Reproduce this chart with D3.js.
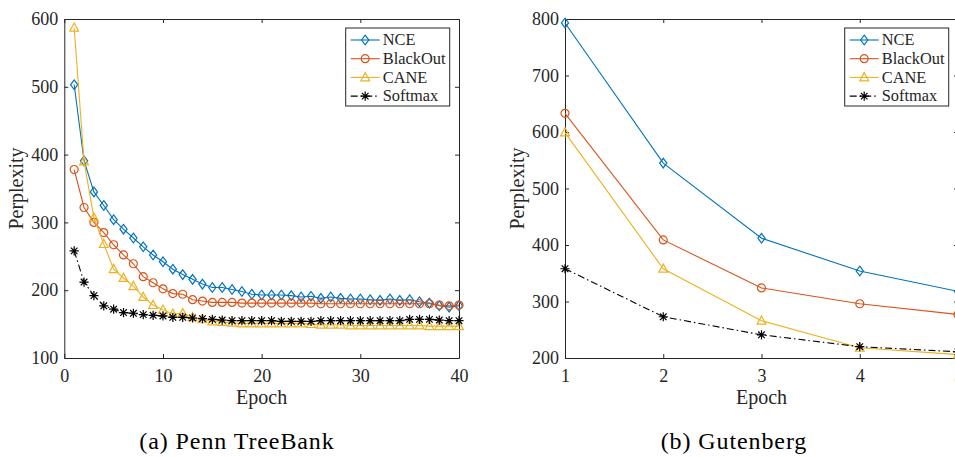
<!DOCTYPE html>
<html>
<head>
<meta charset="utf-8">
<script src="https://d3js.org/d3.v7.min.js"></script>
<style>
  body { margin: 0; background: #fff; }
  svg text { font-family: "Liberation Serif", "Times New Roman", serif; fill: #262626; }
</style>
</head>
<body>
<svg width="955" height="457"></svg>
<script>
// series order, colours and markers (MATLAB default colours)
var seriesNames = ["NCE", "BlackOut", "CANE", "Softmax"];
var seriesColors = ["#0072BD", "#D95319", "#EDB120", "#000000"];
var seriesMarkers = ["diamond", "circle", "triangle", "star"];

// (a) Penn TreeBank
var ptbEpochs = [1, 2, 3, 4, 5, 6, 7, 8, 9, 10, 11, 12, 13, 14, 15, 16, 17, 18, 19, 20,
                 21, 22, 23, 24, 25, 26, 27, 28, 29, 30, 31, 32, 33, 34, 35, 36, 37, 38, 39, 40];
var ptbNCE = [503, 391, 345, 325, 304, 290, 277, 264, 252, 242, 231, 223, 216, 209, 204, 204, 201, 198, 194, 193,
              193, 193, 192, 190, 191, 188, 190, 188, 187, 187, 186, 185, 187, 185, 186, 183, 181, 177, 175, 177];
var ptbBlackOut = [378, 322, 300, 285, 267, 252, 239, 220, 211, 202, 195, 194, 186, 184, 182, 182, 182, 181, 181, 181,
                   181, 181, 181, 181, 181, 180, 180, 180, 180, 180, 180, 180, 180, 180, 180, 180, 180, 178, 177, 178];
var ptbCANE = [587, 390, 307, 268, 231, 218, 206, 190, 178, 171, 165, 166, 160, 157, 154, 153, 152, 151, 151, 151,
               151, 151, 151, 151, 150, 149, 149, 149, 148, 148, 148, 148, 148, 148, 148, 148, 147, 147, 147, 147];
var ptbSoftmax = [258, 212, 192, 177, 172, 167, 166, 164, 163, 162, 160, 160, 159, 158, 157, 156, 155, 155, 155, 155,
                  155, 154, 154, 154, 154, 155, 155, 155, 155, 155, 155, 155, 155, 155, 157, 157, 157, 156, 155, 155];
var ptbXTicks = [0, 10, 20, 30, 40];
var ptbYTicks = [100, 200, 300, 400, 500, 600];

// (b) Gutenberg
var gutEpochs = [1, 2, 3, 4, 5];
var gutNCE = [793, 545, 412, 354, 318];
var gutBlackOut = [633, 409, 324, 296, 277];
var gutCANE = [599, 358, 266, 218, 206];
var gutSoftmax = [358, 273, 241, 220, 211];
var gutXTicks = [1, 2, 3, 4, 5];
var gutYTicks = [200, 300, 400, 500, 600, 700, 800];

var svg = d3.select("svg");
var axisColor = "#262626";
var serif = "'Liberation Serif', 'Times New Roman', serif";
var intFmt = d3.format("d");

function markerPath(type) {
    if (type == "diamond") return "M0,-4.8L3.6,0L0,4.8L-3.6,0Z";
    if (type == "circle") return "M4,0A4,4 0 1,1 -4,0A4,4 0 1,1 4,0Z";
    if (type == "triangle") return "M0,-4.8L4.4,3.4L-4.4,3.4Z";
    // asterisk
    return "M0,-4.6L0,4.6M-4.6,0L4.6,0M-3.3,-3.3L3.3,3.3M-3.3,3.3L3.3,-3.3";
}

function dashFor(i) {
    return seriesNames[i] == "Softmax" ? "7,3,1.5,3" : null;
}

function drawPanel(p) {
    var x = d3.scaleLinear().domain(p.xDomain).range([p.left, p.right]);
    var y = d3.scaleLinear().domain(p.yDomain).range([p.bottom, p.top]);
    var g = svg.append("g");

    // box axes, ticks pointing inward
    g.append("g")
     .attr("transform", "translate(0," + p.bottom + ")")
     .call(d3.axisBottom(x).tickValues(p.xTicks).tickFormat(intFmt)
             .tickSizeInner(-4).tickSizeOuter(0).tickPadding(11))
     .call(styleAxis);
    g.append("g")
     .attr("transform", "translate(0," + p.top + ")")
     .call(d3.axisTop(x).tickValues(p.xTicks).tickSizeInner(-4).tickSizeOuter(0).tickFormat(""))
     .call(styleAxis);
    g.append("g")
     .attr("transform", "translate(" + p.left + ",0)")
     .call(d3.axisLeft(y).tickValues(p.yTicks).tickFormat(intFmt)
             .tickSizeInner(-4).tickSizeOuter(0).tickPadding(6))
     .call(styleAxis);
    g.append("g")
     .attr("transform", "translate(" + p.right + ",0)")
     .call(d3.axisRight(y).tickValues(p.yTicks).tickSizeInner(-4).tickSizeOuter(0).tickFormat(""))
     .call(styleAxis);

    var line = d3.line()
        .x(function(d) { return x(d[0]); })
        .y(function(d) { return y(d[1]); });

    p.series.forEach(function(vals, i) {
        var pts = p.epochs.map(function(e, k) { return [e, vals[k]]; });
        g.append("path")
         .datum(pts)
         .attr("d", line)
         .attr("fill", "none")
         .attr("stroke", seriesColors[i])
         .attr("stroke-width", 1.1)
         .attr("stroke-dasharray", dashFor(i));
        g.selectAll(".m" + i)
         .data(pts)
         .enter().append("path")
         .attr("class", "m" + i)
         .attr("transform", function(d) { return "translate(" + x(d[0]) + "," + y(d[1]) + ")"; })
         .attr("d", markerPath(seriesMarkers[i]))
         .attr("fill", "none")
         .attr("stroke", seriesColors[i])
         .attr("stroke-width", 1.2);
    });

    // axis labels
    g.append("text")
     .attr("x", (p.left + p.right) / 2)
     .attr("y", 404)
     .attr("text-anchor", "middle")
     .style("font-family", serif)
     .style("font-size", "20px")
     .text("Epoch");
    g.append("text")
     .attr("transform", "translate(" + (p.left - 41) + "," + ((p.top + p.bottom) / 2) + ") rotate(-90)")
     .attr("text-anchor", "middle")
     .style("font-family", serif)
     .style("font-size", "20px")
     .text("Perplexity");

    // legend
    var lg = g.append("g").attr("transform", "translate(" + p.legendX + ",28)");
    lg.append("rect")
      .attr("width", 104)
      .attr("height", 78)
      .attr("fill", "#fff")
      .attr("stroke", axisColor)
      .attr("stroke-width", 1);
    seriesNames.forEach(function(name, i) {
        var cy = 12 + i * 18.7;
        lg.append("line")
          .attr("x1", 5).attr("x2", 34)
          .attr("y1", cy).attr("y2", cy)
          .attr("stroke", seriesColors[i])
          .attr("stroke-width", 1.1)
          .attr("stroke-dasharray", dashFor(i));
        lg.append("path")
          .attr("transform", "translate(19.5," + cy + ")")
          .attr("d", markerPath(seriesMarkers[i]))
          .attr("fill", "none")
          .attr("stroke", seriesColors[i])
          .attr("stroke-width", 1.2);
        lg.append("text")
          .attr("x", 37)
          .attr("y", cy + 5.3)
          .style("font-family", serif)
          .style("font-size", "16.4px")
          .text(name);
    });

    // caption
    svg.append("text")
       .attr("x", p.captionX)
       .attr("y", 449)
       .attr("text-anchor", "middle")
       .style("font-family", serif)
       .style("font-size", "24px")
       .style("letter-spacing", "0.9px")
       .style("fill", "#000")
       .text(p.caption);
}

function styleAxis(sel) {
    sel.attr("font-family", null);
    sel.selectAll("path, line").attr("stroke", axisColor).attr("stroke-width", 1);
    sel.selectAll("text")
       .style("fill", axisColor)
       .style("font-family", serif)
       .style("font-size", "18px");
}

drawPanel({
    left: 64.3, right: 459, top: 19, bottom: 358,
    xDomain: [0, 40], yDomain: [100, 600],
    xTicks: ptbXTicks, yTicks: ptbYTicks,
    epochs: ptbEpochs,
    series: [ptbNCE, ptbBlackOut, ptbCANE, ptbSoftmax],
    legendX: 345.7,
    caption: "(a) Penn TreeBank", captionX: 237
});

drawPanel({
    left: 565, right: 958, top: 19, bottom: 358,
    xDomain: [1, 5], yDomain: [200, 800],
    xTicks: gutXTicks, yTicks: gutYTicks,
    epochs: gutEpochs,
    series: [gutNCE, gutBlackOut, gutCANE, gutSoftmax],
    legendX: 844.7,
    caption: "(b) Gutenberg", captionX: 734
});
</script>
</body>
</html>
